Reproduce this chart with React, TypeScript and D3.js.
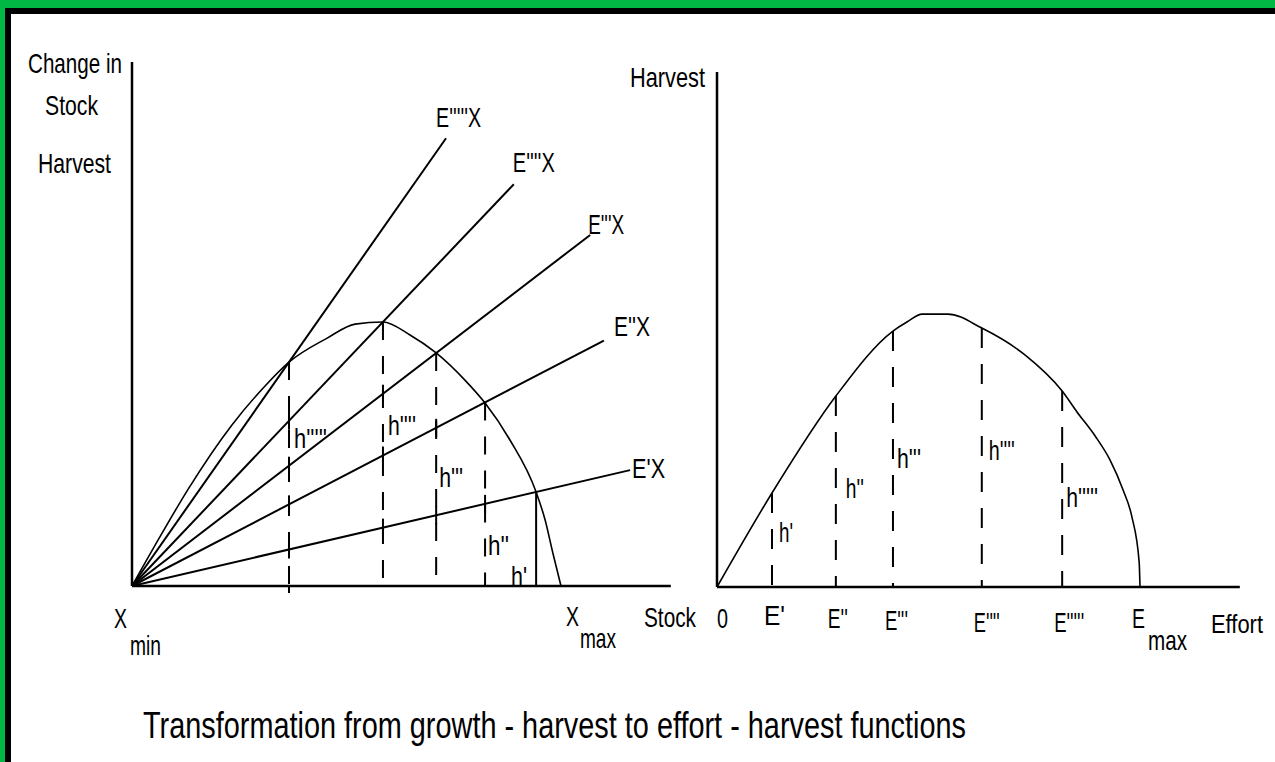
import React from "react";
import * as d3 from "d3";

const W = 1275;
const H = 762;

// left panel: growth curve, stock vs change in stock (Xmax = 100, peak = 100)
const growthStock = [0, 6.5, 13.1, 23.3, 30.8, 36.6, 45.5, 52.0, 58.5, 64.8, 70.9, 77.6, 82.3, 88.1, 94.2, 96.3, 98.1, 100];
const growthValue = [0, 18.6, 36.7, 61.0, 75.4, 84.8, 93.9, 99.2, 100, 95.1, 88.3, 78.0, 69.3, 55.3, 35.6, 25.0, 12.5, 0];

// effort rays: harvest = E * X
const rayNames = ["E'X", "E''X", "E'''X", "E''''X", "E'''''X"];
const raySlope = [0.378, 0.845, 1.245, 1.71, 2.317];
const rayEnd = [116.1, 110, 106.8, 89, 73.2];

// stock where each ray meets the growth curve
const harvestStock = [94.2, 82.3, 70.9, 58.5, 36.6];
const harvestNames = ["h'", "h''", "h'''", "h''''", "h'''''"];

// right panel: effort - harvest curve (Emax = 100)
const effortCurve = [0, 13.0, 28.1, 41.6, 44.9, 48.5, 54.6, 62.6, 72.8, 81.6, 85.1, 89.4, 92.9, 96.0, 98.1, 99.8, 100];
const harvestCurve = [0, 34.3, 69.7, 93.4, 96.7, 99.6, 99.6, 94.5, 84.7, 71.5, 63.9, 55.1, 46.4, 35.4, 25.5, 9.1, 0];
const effortLevels = [13.0, 28.1, 41.6, 62.6, 81.6];
const effortNames = ["E'", "E''", "E'''", "E''''", "E'''''"];
const harvestLevels = [34.3, 69.7, 93.4, 94.5, 71.5];

// label layout (offsets only)
const rayLabelOff = [[2, 8, 33], [10, -5, 36], [-2, -1, 36], [-1, -12, 42], [-10, -11, 45]];
const hLeftOff = [[-25, 0, 16], [3, 11.7, 21], [3, 37.5, 24], [5, 57.2, 28], [5, 52.3, 33]];
const hRightOff = [[7, 16.4, 14], [10, 32.5, 18], [4, 43.4, 24], [7, 46.4, 26], [4, 29.2, 32]];
const effortTickW = [21, 20, 23, 26, 30];
const effortTickDy = [38, 41, 43, 45, 45];

const FONT = "'Liberation Sans Narrow', 'Liberation Sans', Arial, sans-serif";

const Label = ({ x, y, w, size = 28, children }: any) => (
  <text x={x} y={y} fontSize={size} fontFamily={FONT} fill="#000"
    textLength={w} lengthAdjust="spacingAndGlyphs">{children}</text>
);

const App = () => {
  const xL = d3.scaleLinear().domain([0, 100]).range([132, 561]);
  const yL = d3.scaleLinear().domain([0, 100]).range([586, 322]);
  const xR = d3.scaleLinear().domain([0, 100]).range([717, 1140]);
  const yR = d3.scaleLinear().domain([0, 100]).range([587, 313]);

  const leftCurve = d3.line<number>()
    .x((_, i) => xL(growthStock[i]))
    .y(d => yL(d))
    .curve(d3.curveMonotoneX)(growthValue);

  const rightCurve = d3.line<number>()
    .x((_, i) => xR(effortCurve[i]))
    .y(d => yR(d))
    .curve(d3.curveMonotoneX)(harvestCurve);

  const stroke = "#000";

  return (
    <svg width={W} height={H} style={{ position: "absolute", left: 0, top: 0, background: "#fff" }}>
      {/* frame */}
      <rect x={0} y={0} width={W} height={8} fill="#00b843" />
      <rect x={0} y={0} width={5} height={H} fill="#00b843" />
      <rect x={5} y={8} width={6} height={H - 8} fill="#000" />
      <rect x={5} y={8} width={W - 5} height={6} fill="#000" />

      {/* ---------- left panel ---------- */}
      <line x1={xL(0)} x2={xL(0)} y1={yL(0)} y2={yL(198.5)} stroke={stroke} strokeWidth={2.5} />
      <line x1={xL(0)} x2={xL(125.6)} y1={yL(0)} y2={yL(0)} stroke={stroke} strokeWidth={2.5} />

      {raySlope.map((e, i) => (
        <line key={"ray" + i} x1={xL(0)} y1={yL(0)} x2={xL(rayEnd[i])} y2={yL(e * rayEnd[i])}
          stroke={stroke} strokeWidth={2} />
      ))}

      <path d={leftCurve || ""} fill="none" stroke={stroke} strokeWidth={1.6} />

      {harvestStock.map((s, i) => {
        const top = raySlope[i] * s;
        return (
          <g key={"hv" + i}>
            <line x1={xL(s)} x2={xL(s)} y1={yL(top)} y2={yL(0)} stroke={stroke} strokeWidth={2}
              strokeDasharray={i === 0 ? undefined : "18,16"} />
            {raySlope.map((e, j) => e * s < top - 5 ? (
              <line key={j} x1={xL(s)} x2={xL(s)} y1={yL(e * s) - 9} y2={yL(e * s) + 9}
                stroke={stroke} strokeWidth={2} />
            ) : null)}
          </g>
        );
      })}
      <line x1={xL(harvestStock[4])} x2={xL(harvestStock[4])} y1={yL(0)} y2={yL(0) + 7} stroke={stroke} strokeWidth={2} />

      {rayNames.map((n, i) => (
        <Label key={"rl" + i} x={xL(rayEnd[i]) + rayLabelOff[i][0]}
          y={yL(raySlope[i] * rayEnd[i]) + rayLabelOff[i][1]} w={rayLabelOff[i][2]}>{n}</Label>
      ))}
      {harvestNames.map((n, i) => (
        <Label key={"hl" + i} x={xL(harvestStock[i]) + hLeftOff[i][0]} y={yL(hLeftOff[i][1])}
          w={hLeftOff[i][2]}>{n}</Label>
      ))}

      <Label x={28} y={73} w={94}>Change in</Label>
      <Label x={45} y={115} w={53}>Stock</Label>
      <Label x={38} y={173} w={73}>Harvest</Label>

      <Label x={xL(0) - 18} y={628} w={13}>X</Label>
      <Label x={xL(0) - 2} y={655} w={31}>min</Label>
      <Label x={xL(100) + 5} y={626} w={13}>X</Label>
      <Label x={xL(100) + 19} y={648} w={36}>max</Label>
      <Label x={644} y={627} w={52}>Stock</Label>

      {/* ---------- right panel ---------- */}
      <line x1={xR(0)} x2={xR(0)} y1={yR(0)} y2={yR(188)} stroke={stroke} strokeWidth={2.5} />
      <line x1={xR(0)} x2={xR(123.6)} y1={yR(0)} y2={yR(0)} stroke={stroke} strokeWidth={2.5} />

      <path d={rightCurve || ""} fill="none" stroke={stroke} strokeWidth={1.6} />

      {effortLevels.map((e, i) => (
        <line key={"ev" + i} x1={xR(e)} x2={xR(e)} y1={yR(harvestLevels[i])} y2={yR(0)}
          stroke={stroke} strokeWidth={2} strokeDasharray="20,16" />
      ))}

      {harvestNames.map((n, i) => (
        <Label key={"hr" + i} x={xR(effortLevels[i]) + hRightOff[i][0]} y={yR(hRightOff[i][1])}
          w={hRightOff[i][2]}>{n}</Label>
      ))}

      <Label x={630} y={87} w={75}>Harvest</Label>
      <Label x={xR(0)} y={yR(0) + 41} w={11}>0</Label>
      {effortNames.map((n, i) => (
        <Label key={"et" + i} x={xR(effortLevels[i]) - 8} y={yR(0) + effortTickDy[i]} w={effortTickW[i]}>{n}</Label>
      ))}
      <Label x={xR(100) - 8} y={628} w={13}>E</Label>
      <Label x={xR(100) + 8} y={650} w={39}>max</Label>
      <Label x={1211} y={633} w={52} size={26}>Effort</Label>

      <Label x={143} y={738} w={823} size={36}>Transformation from growth - harvest to effort - harvest functions</Label>
    </svg>
  );
};

export default App;
